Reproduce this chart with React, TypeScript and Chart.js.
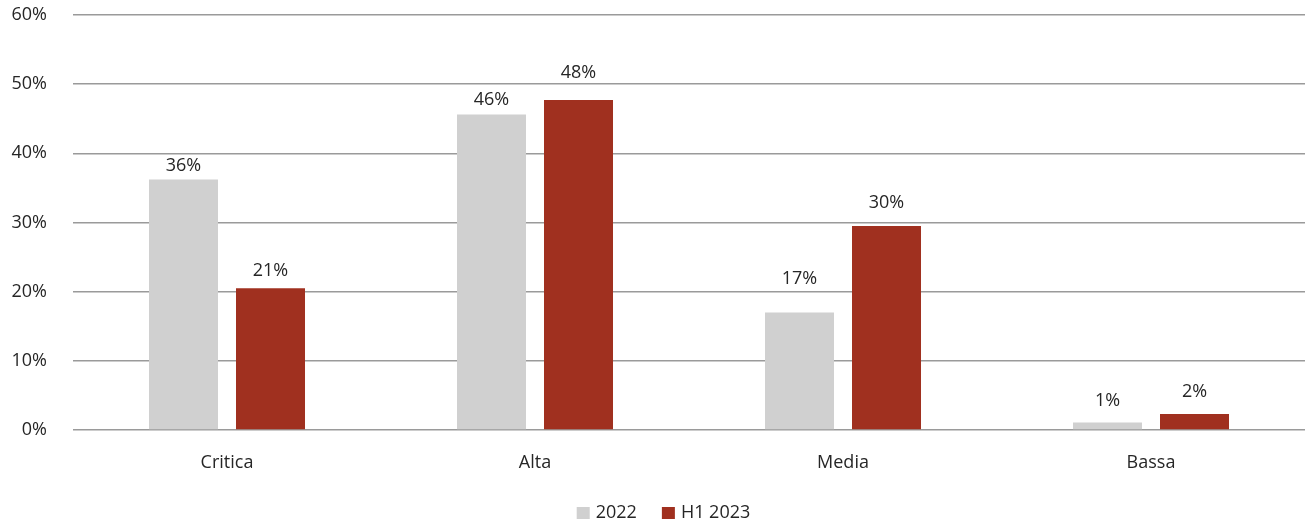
import React, { useEffect, useRef } from "react";
import { Chart, registerables } from "chart.js";

Chart.register(...registerables);

const categories = ["Critica", "Alta", "Media", "Bassa"];
const seriesNames = ["2022", "H1 2023"];
const values2022 = [36.2, 45.6, 17.0, 1.1];
const valuesH1_2023 = [20.5, 47.7, 29.5, 2.3];
const labels2022 = ["36%", "46%", "17%", "1%"];
const labelsH1_2023 = ["21%", "48%", "30%", "2%"];
const yTicks = [0, 10, 20, 30, 40, 50, 60];

// style: distance (px) of each value label's centre above its bar top
const labelLift = [
  [14, 15, 34, 22],
  [17, 27, 23, 22],
];

const FONT = "'Open Sans', 'Noto Sans', sans-serif";
const TEXT = "#262626";

const valueLabelPlugin = {
  id: "valueLabels",
  afterDatasetsDraw(chart: any) {
    const { ctx } = chart;
    const texts = [labels2022, labelsH1_2023];
    ctx.save();
    ctx.font = `18px ${FONT}`;
    ctx.fillStyle = TEXT;
    ctx.textAlign = "center";
    ctx.textBaseline = "middle";
    chart.data.datasets.forEach((_ds: any, di: number) => {
      const meta = chart.getDatasetMeta(di);
      meta.data.forEach((bar: any, i: number) => {
        ctx.fillText(texts[di][i], bar.x, bar.y - labelLift[di][i]);
      });
    });
    ctx.restore();
  },
};

const bottomLegendPlugin = {
  id: "bottomLegend",
  afterDraw(chart: any) {
    const { ctx, width } = chart;
    const boxW = 13;
    const boxH = 12;
    const gapText = 6;
    const gapItem = 25;
    const cy = 513;
    ctx.save();
    ctx.font = `18px ${FONT}`;
    const items = chart.data.datasets.map((ds: any) => ({
      text: ds.label,
      color: ds.backgroundColor,
      w: ctx.measureText(ds.label).width,
    }));
    const total =
      items.reduce((s: number, it: any) => s + boxW + gapText + it.w, 0) +
      gapItem * (items.length - 1);
    let x = width / 2 + 10 - total / 2;
    ctx.textBaseline = "middle";
    ctx.textAlign = "left";
    items.forEach((it: any) => {
      ctx.fillStyle = it.color;
      ctx.fillRect(x, cy - boxH / 2, boxW, boxH);
      x += boxW + gapText;
      ctx.fillStyle = TEXT;
      ctx.fillText(it.text, x, cy);
      x += it.w + gapItem;
    });
    ctx.restore();
  },
};

export default function App() {
  const ref = useRef<HTMLCanvasElement | null>(null);

  useEffect(() => {
    document.body.style.margin = "0";
    if (!ref.current) return;
    const chart = new Chart(ref.current, {
      type: "bar",
      data: {
        labels: categories,
        datasets: [
          {
            label: seriesNames[0],
            data: values2022,
            backgroundColor: "#D0D0D0",
            categoryPercentage: 0.565,
            barPercentage: 0.793,
          },
          {
            label: seriesNames[1],
            data: valuesH1_2023,
            backgroundColor: "#A0301F",
            categoryPercentage: 0.565,
            barPercentage: 0.793,
          },
        ],
      },
      options: {
        animation: false,
        responsive: false,
        maintainAspectRatio: false,
        layout: { padding: { top: 15, right: 2, left: 0, bottom: 0 } },
        plugins: {
          legend: { display: false },
          tooltip: { enabled: false },
        },
        scales: {
          x: {
            grid: { display: false, drawTicks: false },
            border: { display: false },
            ticks: {
              padding: 22,
              color: TEXT,
              font: { family: FONT, size: 18 },
            },
            afterFit(scale: any) {
              scale.height = 92;
            },
          },
          y: {
            min: 0,
            max: 60,
            afterBuildTicks(scale: any) {
              scale.ticks = yTicks.map((v) => ({ value: v }));
            },
            grid: {
              color: "#9A9A9A",
              lineWidth: 1.5,
              drawTicks: false,
            },
            border: { display: false },
            ticks: {
              padding: 26,
              color: TEXT,
              font: { family: FONT, size: 18 },
              callback: (v: any) => `${v}%`,
            },
            afterFit(scale: any) {
              scale.width = 73;
              scale.paddingTop = 0;
              scale.paddingBottom = 0;
            },
          },
        },
      },
      plugins: [valueLabelPlugin, bottomLegendPlugin],
    });
    return () => chart.destroy();
  }, []);

  return (
    <div style={{ width: 1307, height: 522 }}>
      <canvas ref={ref} width={1307} height={522} style={{ display: "block" }} />
    </div>
  );
}
